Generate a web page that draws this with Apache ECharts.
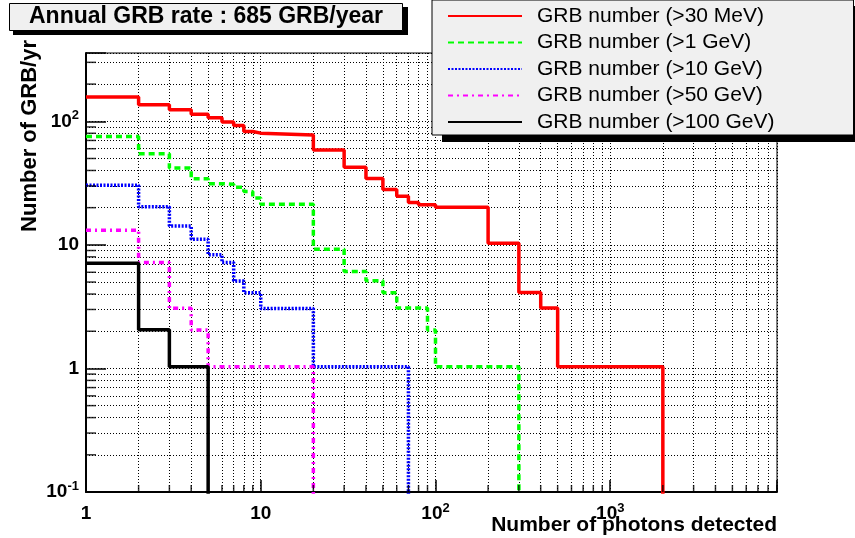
<!DOCTYPE html>
<html>
<head>
<meta charset="utf-8">
<script src="https://cdn.jsdelivr.net/npm/echarts@6/dist/echarts.min.js"></script>
<style>
  html, body { margin: 0; padding: 0; background: #fff; }
  #main { width: 855px; height: 538px; }
</style>
</head>
<body>
<div id="main"></div>
<script>
// histogram bins: lower edges + last upper edge, and the per-bin GRB/yr
var redEdges = [1, 2, 3, 4, 5, 6, 7, 8, 9, 10, 20, 30, 40, 50, 60, 70, 80, 90, 100, 200, 300, 400, 500, 2000];
var redCounts = [157, 136, 124, 114, 107, 98.5, 92.5, 82.7, 80.2, 77.3, 58.5, 42.5, 34.4, 28.0, 24.7, 22.0, 21.1, 21.1, 20.2, 10.3, 4.12, 3.09, 1.03];

var greenEdges = [1, 2, 3, 4, 5, 6, 7, 8, 9, 10, 20, 30, 40, 50, 60, 90, 100, 300];
var greenCounts = [75.3, 54.5, 41.8, 34.2, 31.3, 30.9, 29.3, 27.0, 24.0, 21.3, 9.2, 6.1, 5.13, 4.1, 3.08, 2.05, 1.03];

var blueEdges = [1, 2, 3, 4, 5, 6, 7, 8, 10, 20, 70];
var blueCounts = [30.4, 20.3, 14.2, 11.1, 8.3, 7.2, 5.1, 4.1, 3.05, 1.03];

var magentaEdges = [1, 2, 3, 4, 5, 20];
var magentaCounts = [13.1, 7.2, 3.07, 2.05, 1.03];

var blackEdges = [1, 2, 3, 5];
var blackCounts = [7.1, 2.06, 1.03];

var seriesNames = ['GRB number (>30 MeV)', 'GRB number (>1 GeV)', 'GRB number (>10 GeV)',
                   'GRB number (>50 GeV)', 'GRB number (>100 GeV)'];

// tick labels
var xTickValues = [1, 10, 100, 1000];
var xTickLabels = ['{b|1}', '{b|10}', '{b|10}{s|2}', '{b|10}{s|3}'];
var yTickValues = [0.1, 1, 10, 100];
var yTickLabels = ['{b|10}{s|-1}', '{b|1}', '{b|10}', '{b|10}{s|2}'];

var FONT = 'Liberation Sans, Arial, Helvetica, sans-serif';
var FLOOR = 0.01; // below the axis, so the last bin drops out of the frame

function stepData(edges, counts) {
    var pts = counts.map(function (c, i) { return [edges[i], c]; });
    pts.push([edges[edges.length - 1], FLOOR]);
    return pts;
}

function labelFor(values, labels) {
    return function (v) {
        for (var i = 0; i < values.length; i++) {
            if (Math.abs(Math.log10(v) - Math.log10(values[i])) < 1e-6) return labels[i];
        }
        return '';
    };
}

// minor grid positions 2..9 x 10^n
var minorX = [], minorY = [];
[1, 10, 100, 1000].forEach(function (d) {
    for (var k = 2; k <= 9; k++) minorX.push(k * d);
});
[0.1, 1, 10, 100].forEach(function (d) {
    for (var k = 2; k <= 9; k++) { if (k * d < 357) minorY.push(+(k * d).toFixed(2)); }
});

var richLabel = {
    b: { fontSize: 19, fontWeight: 'bold', fontFamily: FONT, color: '#000', lineHeight: 24 },
    s: { fontSize: 13, fontWeight: 'bold', fontFamily: FONT, color: '#000', verticalAlign: 'top', lineHeight: 14 }
};

var myChart = echarts.init(document.getElementById('main'));

function histSeries(name, edges, counts, color, type) {
    return {
        name: name,
        type: 'line',
        step: 'end',
        symbol: 'none',
        clip: true,
        data: stepData(edges, counts),
        itemStyle: { color: color },
        lineStyle: { color: color, width: 3.5, type: type, cap: 'butt' },
        z: 5
    };
}

option = {
    backgroundColor: '#fff',
    animation: false,
    title: {
        text: 'Annual GRB rate : 685 GRB/year',
        left: 9,
        top: 3,
        padding: [2, 20, 2, 20],
        backgroundColor: '#f0f0f0',
        borderColor: '#000',
        borderWidth: 1,
        z: 10,
        textStyle: { fontSize: 23, fontWeight: 'bold', fontFamily: FONT, color: '#000', lineHeight: 24 }
    },
    legend: {
        data: seriesNames,
        orient: 'vertical',
        left: 432,
        top: 0,
        padding: [5, 79, 2, 15],
        itemWidth: 74,
        itemHeight: 14,
        itemGap: 4.5,
        backgroundColor: '#f0f0f0',
        borderColor: '#000',
        borderWidth: 1,
        selectedMode: false,
        z: 10,
        itemStyle: { opacity: 0 },
        textStyle: { fontSize: 21, fontFamily: FONT, color: '#000', lineHeight: 22, padding: [0, 0, 0, 10] }
    },
    grid: {
        left: 86,
        right: 78,
        top: 53,
        bottom: 46,
        outerBoundsMode: 'none',
        containLabel: false,
        show: true,
        borderColor: '#000',
        borderWidth: 1,
        backgroundColor: 'transparent'
    },
    xAxis: {
        type: 'log',
        logBase: 10,
        min: 1,
        max: 9000,
        axisLine: { lineStyle: { color: '#000', width: 2 } },
        axisTick: { inside: true, length: 12, lineStyle: { color: '#000', width: 1.5 } },
        splitLine: { show: true, lineStyle: { color: '#000', width: 1, type: [1, 2] } },
        axisLabel: { margin: 10, formatter: labelFor(xTickValues, xTickLabels), rich: richLabel }
    },
    yAxis: {
        type: 'log',
        logBase: 10,
        min: 0.1,
        max: 357,
        axisLine: { lineStyle: { color: '#000', width: 2 } },
        axisTick: { inside: true, length: 20, lineStyle: { color: '#000', width: 1.5 } },
        splitLine: { show: true, lineStyle: { color: '#000', width: 1, type: [1, 2] } },
        axisLabel: { margin: 7, formatter: labelFor(yTickValues, yTickLabels), rich: richLabel }
    },
    graphic: [
        {   // shadow of the title box
            type: 'rect', z: 9, silent: true,
            shape: { x: 13, y: 7, width: 395, height: 28 },
            style: { fill: '#000' }
        },
        {   // shadow of the legend box
            type: 'rect', z: 9, silent: true,
            shape: { x: 442, y: 6, width: 420, height: 136 },
            style: { fill: '#000' }
        },
        {
            type: 'text', z: 10,
            x: 30,
            y: 40,
            rotation: Math.PI / 2,
            style: {
                text: 'Number of GRB/yr',
                font: 'bold 22px ' + FONT,
                fill: '#000',
                align: 'right',
                verticalAlign: 'middle'
            }
        },
        {
            type: 'text', z: 10,
            x: 777,
            y: 525,
            style: {
                text: 'Number of photons detected',
                font: 'bold 21px ' + FONT,
                fill: '#000',
                align: 'right',
                verticalAlign: 'middle'
            }
        }
    ],
    series: [
        {
            // minor grid lines
            name: 'minorGrid',
            type: 'line',
            data: [],
            silent: true,
            z: 1,
            markLine: {
                silent: true,
                symbol: ['none', 'none'],
                label: { show: false },
                lineStyle: { color: '#000', width: 1, type: [1, 2] },
                data: minorX.map(function (v) { return { xAxis: v }; })
                    .concat(minorY.map(function (v) { return { yAxis: v }; }))
            }
        },
        {
            // minor ticks on the bottom axis
            name: 'minorTickX',
            type: 'scatter',
            silent: true,
            clip: false,
            symbol: 'rect',
            symbolSize: [1.5, 7],
            symbolOffset: [0, -3.5],
            itemStyle: { color: '#000' },
            data: minorX.map(function (v) { return [v, 0.1]; }),
            z: 6
        },
        {
            // minor ticks on the left axis
            name: 'minorTickY',
            type: 'scatter',
            silent: true,
            clip: false,
            symbol: 'rect',
            symbolSize: [10, 1.5],
            symbolOffset: [5, 0],
            itemStyle: { color: '#000' },
            data: minorY.map(function (v) { return [1, v]; }),
            z: 6
        },
        histSeries(seriesNames[0], redEdges, redCounts, '#ff0000', 'solid'),
        histSeries(seriesNames[1], greenEdges, greenCounts, '#00ff00', [6, 4]),
        histSeries(seriesNames[2], blueEdges, blueCounts, '#0000ff', [2, 1.5]),
        histSeries(seriesNames[3], magentaEdges, magentaCounts, '#ff00ff', [5, 4, 2, 4]),
        histSeries(seriesNames[4], blackEdges, blackCounts, '#000000', 'solid')
    ]
};

myChart.setOption(option);
</script>
</body>
</html>
